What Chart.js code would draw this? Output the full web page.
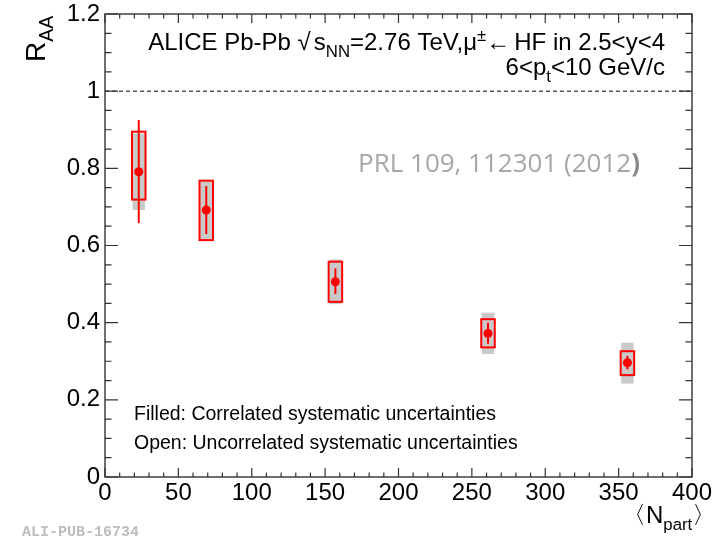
<!DOCTYPE html>
<html>
<head>
<meta charset="utf-8">
<script src="https://cdn.jsdelivr.net/npm/chart.js@4.4.1/dist/chart.umd.min.js"></script>
<style>
  html,body{margin:0;padding:0;background:#fff;}
  canvas{display:block;}
</style>
</head>
<body>
<canvas id="c" width="720" height="541"></canvas>
<script>
// ── data ──
const npart     = [23, 69, 157, 261, 356];
const raa       = [0.791, 0.692, 0.506, 0.372, 0.296];
const statLo    = [0.658, 0.630, 0.474, 0.345, 0.279];
const statHi    = [0.925, 0.754, 0.541, 0.400, 0.314];
const uncorrLo  = [0.719, 0.614, 0.454, 0.336, 0.264];   // open red boxes
const uncorrHi  = [0.895, 0.768, 0.558, 0.409, 0.326];
const corrLo    = [0.692, 0.617, 0.448, 0.319, 0.242];   // filled grey boxes
const corrHi    = [0.890, 0.765, 0.564, 0.426, 0.348];
const refLine   = [{x:0,y:1},{x:400,y:1}];
const xTicks    = [0,50,100,150,200,250,300,350,400];
const yTicks    = [0,0.2,0.4,0.6,0.8,1,1.2];

const FAM='"Liberation Sans"';

// draw a run of text pieces with sub/superscripts
function rich(ctx,x,y,parts,size,align) {
    const pieces=parts.map(p=>{
        const s=typeof p==='string'?{t:p}:p;
        const fs=(s.sub||s.sup)?size*0.7:size;
        ctx.font=fs+'px '+FAM;
        return {...s,fs,w:ctx.measureText(s.t).width+(s.gap||0)};
    });
    const total=pieces.reduce((a,p)=>a+p.w,0);
    let cx=align==='right'?x-total:align==='center'?x-total/2:x;
    pieces.forEach(p=>{
        ctx.font=p.fs+'px '+FAM;
        const dy=p.sub?size*0.3:p.sup?-size*0.38:0;
        ctx.fillText(p.t,cx,y+dy);
        cx+=p.w;
    });
}

const boxesPlugin={
    id:'boxes',
    beforeDatasetsDraw(chart){
        const {ctx,scales:{x,y}}=chart;
        ctx.save();
        // correlated (filled grey)
        ctx.fillStyle='#c9c9c9';
        npart.forEach((n,i)=>{
            const l=x.getPixelForValue(n-4.2), r=x.getPixelForValue(n+4.2);
            const t=y.getPixelForValue(corrHi[i]), b=y.getPixelForValue(corrLo[i]);
            ctx.fillRect(l,t,r-l,b-t);
        });
        // uncorrelated (open red)
        ctx.strokeStyle='#ff0000'; ctx.lineWidth=2;
        npart.forEach((n,i)=>{
            const l=x.getPixelForValue(n-4.6), r=x.getPixelForValue(n+4.6);
            const t=y.getPixelForValue(uncorrHi[i]), b=y.getPixelForValue(uncorrLo[i]);
            ctx.strokeRect(l,t,r-l,b-t);
        });
        // statistical bars
        npart.forEach((n,i)=>{
            const px=x.getPixelForValue(n);
            ctx.beginPath();
            ctx.moveTo(px,y.getPixelForValue(statHi[i]));
            ctx.lineTo(px,y.getPixelForValue(statLo[i]));
            ctx.stroke();
        });
        ctx.restore();
    }
};

const framePlugin={
    id:'frame',
    afterDraw(chart){
        const {ctx,chartArea:a,scales:{x,y}}=chart;
        ctx.save();
        ctx.strokeStyle='#333'; ctx.lineWidth=1.4;
        ctx.strokeRect(a.left,a.top,a.right-a.left,a.bottom-a.top);
        ctx.lineWidth=1.2;
        ctx.beginPath();
        for (let v=0; v<=400; v+=10) {
            const px=x.getPixelForValue(v), len=v%50===0?9:4.5;
            ctx.moveTo(px,a.bottom); ctx.lineTo(px,a.bottom-len);
            ctx.moveTo(px,a.top); ctx.lineTo(px,a.top+len);
        }
        for (let k=0; k<=24; k++) {
            const py=y.getPixelForValue(k*0.05), len=k%4===0?13:6.5;
            ctx.moveTo(a.left,py); ctx.lineTo(a.left+len,py);
            ctx.moveTo(a.right,py); ctx.lineTo(a.right-len,py);
        }
        ctx.stroke();

        // annotations
        ctx.fillStyle='#000'; ctx.textBaseline='alphabetic';
        rich(ctx,665,50,['ALICE Pb-Pb ',{t:'\u221A',gap:3},'s',{t:'NN',sub:1},'=2.76 TeV,\u03BC',{t:'\u00B1',sup:1},{t:'\u2190',gap:4},'HF in 2.5<y<4'],24,'right');
        rich(ctx,665,75,['6<p',{t:'t',sub:1},'<10 GeV/c'],24,'right');
        rich(ctx,134,420,['Filled: Correlated systematic uncertainties'],19.5,'left');
        rich(ctx,134,449,['Open: Uncorrelated systematic uncertainties'],19.5,'left');
        rich(ctx,622,523,['\u3008N',{t:'part',sub:1},'\u3009'],24,'left');

        // y title, rotated
        ctx.save();
        ctx.translate(45,62); ctx.rotate(-Math.PI/2);
        rich(ctx,0,0,['R',{t:'AA',sub:1}],28,'left');
        ctx.restore();

        ctx.font='26px "Open Sans"'; ctx.fillStyle='#a6a6a6';
        ctx.fillText('PRL 109, 112301 (2012',358,172);
        const w=ctx.measureText('PRL 109, 112301 (2012').width;
        ctx.font='bold 26px "Open Sans"'; ctx.fillStyle='#8a8a8a';
        ctx.fillText(')',358+w,172);

        ctx.font='bold 15px "Liberation Mono"'; ctx.fillStyle='#bdbdbd';
        ctx.fillText('ALI-PUB-16734',22,536);
        ctx.restore();
    }
};

const tickFont={family:'Liberation Sans',size:24,lineHeight:1};

new Chart(document.getElementById('c').getContext('2d'),{
    type:'scatter',
    data:{datasets:[
        {type:'line',data:refLine,borderColor:'#000',borderWidth:1,borderDash:[4,3],pointRadius:0,fill:false},
        {data:npart.map((n,i)=>({x:n,y:raa[i]})),backgroundColor:'#ff0000',borderColor:'#ff0000',pointRadius:4.5,pointBorderWidth:0}
    ]},
    options:{
        responsive:false,animation:false,
        layout:{padding:{left:0,right:28,top:14,bottom:24}},
        plugins:{legend:{display:false},tooltip:{enabled:false}},
        scales:{
            x:{type:'linear',min:0,max:400,
               grid:{display:false,drawTicks:false},border:{display:false},
               afterBuildTicks:s=>{s.ticks=xTicks.map(v=>({value:v}));},
               ticks:{autoSkip:false,maxRotation:0,padding:4,color:'#000',font:tickFont,callback:v=>String(v)},
               afterFit:s=>{s.height=40;}},
            y:{type:'linear',min:0,max:1.2,
               grid:{display:false,drawTicks:false},border:{display:false},
               afterBuildTicks:s=>{s.ticks=yTicks.map(v=>({value:v}));},
               ticks:{autoSkip:false,padding:5,color:'#000',font:tickFont,callback:v=>String(+v.toFixed(1))},
               afterFit:s=>{s.width=105;s.paddingTop=0;s.paddingBottom=0;}}
        }
    },
    plugins:[boxesPlugin,framePlugin]
});
</script>
</body>
</html>
